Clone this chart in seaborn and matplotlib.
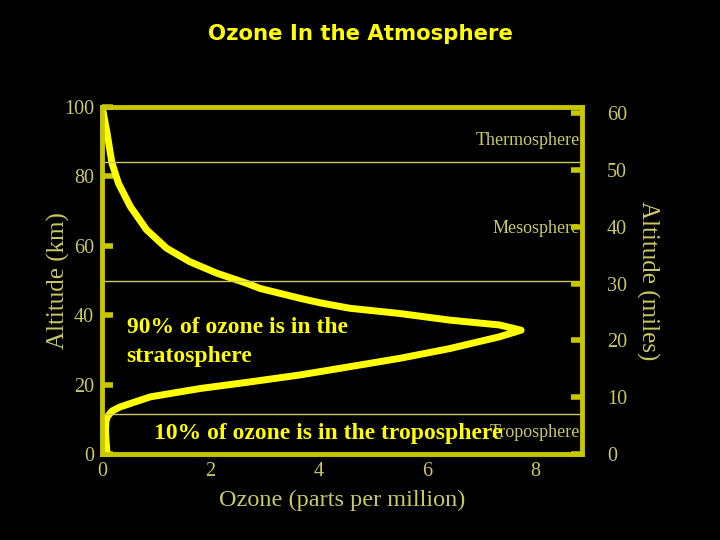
import matplotlib
matplotlib.use("Agg")
import matplotlib.pyplot as plt
import seaborn as sns
import pandas as pd

# ozone profile (ppm, km), bottom to top
ozone_ppm = [0.09, 0.07, 0.06, 0.07, 0.09, 0.18, 0.33, 0.89, 1.81, 2.73,
             3.65, 4.58, 5.5, 6.42, 7.34, 7.74, 7.34, 6.42, 5.5, 4.58, 4.02,
             3.65, 2.92, 2.67, 2.12, 1.62, 1.19, 0.82, 0.52, 0.30, 0.18,
             0.09, 0.0]
altitude_km = [0, 4, 7, 9.5, 10.7, 12.4, 13.6, 16.5, 18.9, 20.8,
               22.8, 25.2, 27.6, 30.4, 33.8, 35.7, 37.2, 38.6, 40.5, 42.0, 43.6,
               44.9, 47.7, 49.2, 52.1, 55.4, 59.3, 64.6, 71.3, 78.0, 83.8,
               92.4, 100]

layer_tops = [11.5, 50, 84]
layer_names = ["Troposphere", "Mesosphere", "Thermosphere"]
layer_label_km = [6.2, 65, 90.2]

x_ticks = [0, 2, 4, 6, 8]
km_ticks = [0, 20, 40, 60, 80, 100]
mile_ticks = [0, 10, 20, 30, 40, 50, 60]

frame = "#c8c800"
soft = "#c8c864"
bright = "#ffff00"
serif = "Liberation Serif"

sns.set_style("dark", {"axes.facecolor": "black", "figure.facecolor": "black"})
fig, ax = plt.subplots(figsize=(7.2, 5.4), dpi=100)
fig.patch.set_facecolor("black")
fig.subplots_adjust(left=0.142, right=0.808, top=0.802, bottom=0.159)

df = pd.DataFrame({"ppm": ozone_ppm, "km": altitude_km})
sns.lineplot(data=df, x="ppm", y="km", sort=False, estimator=None,
             color=bright, lw=5, ax=ax, solid_joinstyle="round",
             solid_capstyle="round")

for h in layer_tops:
    ax.axhline(h, color=soft, lw=1)

ax.set_xlim(0, 8.86)
ax.set_ylim(0, 100)
ax.set_xticks(x_ticks)
ax.set_xticks([1, 3, 5, 7], minor=True)
ax.set_yticks(km_ticks)
ax.grid(False)

ax.tick_params(axis="both", which="both", direction="in", length=8, width=4,
               color=frame, labelcolor=soft, labelsize=14.5, pad=6)
for lab in ax.get_xticklabels() + ax.get_yticklabels():
    lab.set_family(serif)
for sp in ax.spines.values():
    sp.set_color(frame)
    sp.set_linewidth(3.5)
    sp.set_visible(True)

ax.set_xlabel("Ozone (parts per million)", family=serif, fontsize=17.5,
              color=soft, labelpad=6)
ax.set_ylabel("Altitude (km)", family=serif, fontsize=18, color=soft,
              labelpad=-4.5)

ax2 = ax.twinx()
ax2.set_ylim(0, 61.1)
ax2.set_yticks(mile_ticks)
ax2.grid(False)
ax2.tick_params(axis="y", direction="in", length=8, width=4, color=frame,
                labelcolor=soft, labelsize=14.5, pad=18)
for lab in ax2.get_yticklabels():
    lab.set_family(serif)
for sp in ax2.spines.values():
    sp.set_visible(False)
ax2.set_ylabel("Altitude (miles)", family=serif, fontsize=18, color=soft,
               rotation=270, labelpad=23)

for name, km in zip(layer_names, layer_label_km):
    ax.text(8.83, km, name, family=serif, fontsize=13, color=soft,
            ha="right", va="center")

ax.text(0.45, 32.3, "90% of ozone is in the\nstratosphere", family=serif,
        fontsize=17, fontweight="bold", color=bright, ha="left", va="center",
        linespacing=1.45)
ax.text(7.4, 5.9, "10% of ozone is in the troposphere", family=serif,
        fontsize=17, fontweight="bold", color=bright, ha="right", va="center")

fig.suptitle("Ozone In the Atmosphere", color=bright, fontsize=15.3,
             fontweight="bold", y=0.955)

fig.savefig("out.png", dpi=100, facecolor="black")
